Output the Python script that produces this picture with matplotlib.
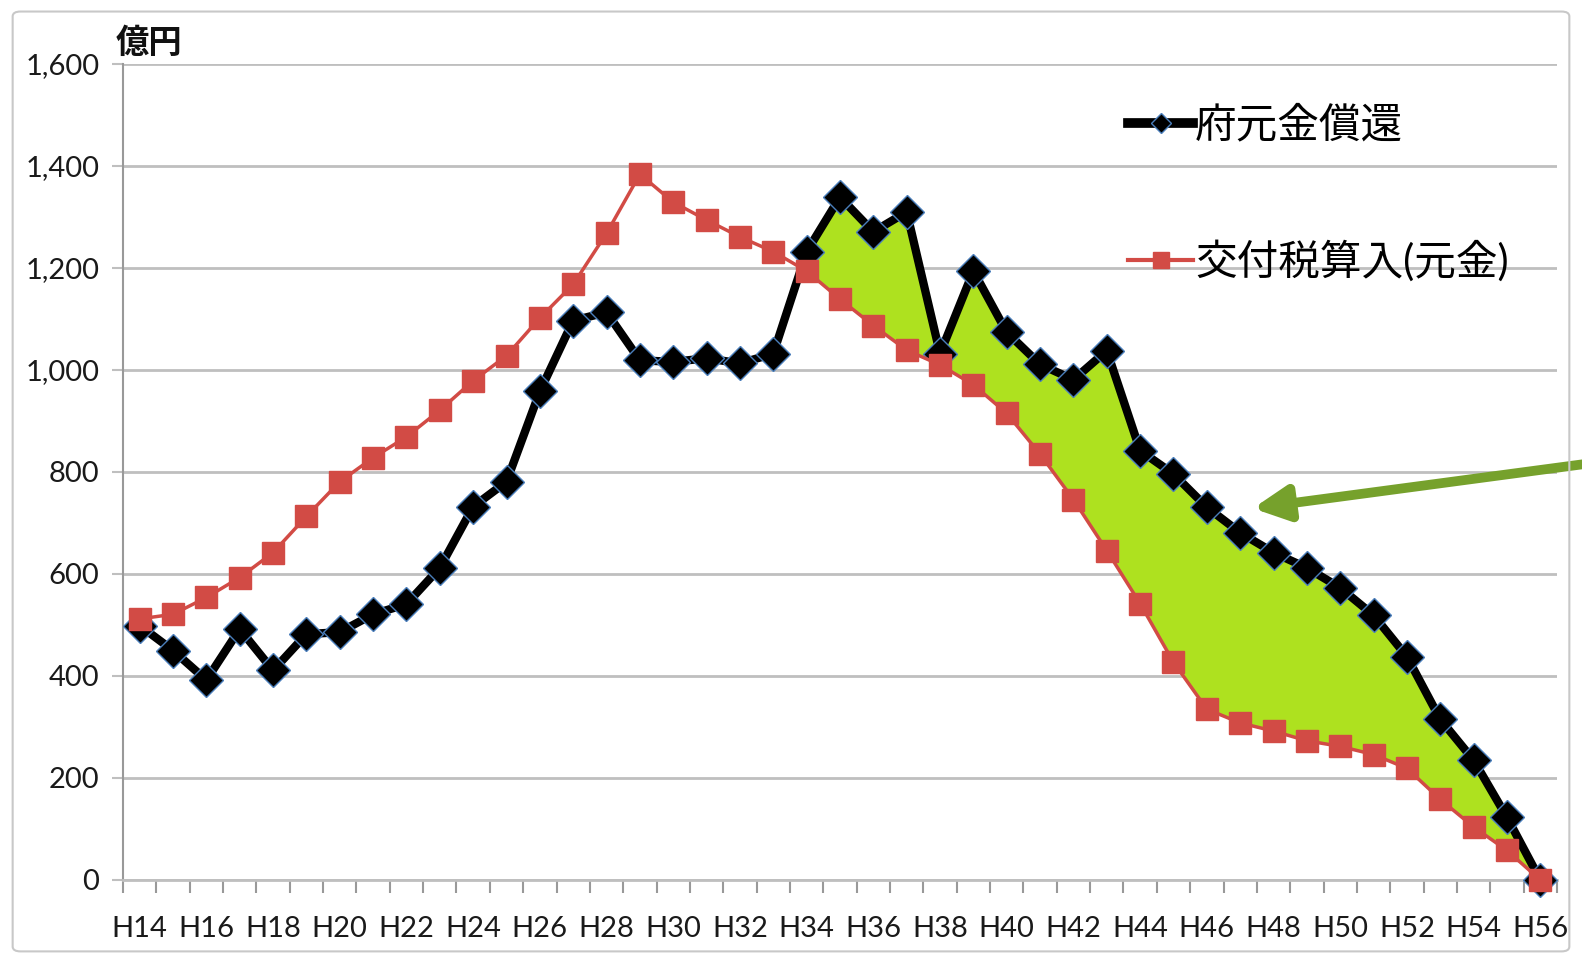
import numpy as np
import matplotlib
matplotlib.use("Agg")
import matplotlib.pyplot as plt
from matplotlib.lines import Line2D
from matplotlib.patches import FancyBboxPatch

plt.rcParams['font.family'] = ['Lato', 'Noto Sans CJK JP', 'DejaVu Sans']

# 年度 H14 .. H56
years = ["H%d" % y for y in range(14, 57)]

# 府元金償還 (億円)
repay = [499, 450, 392, 492, 411, 482, 486, 521, 541, 612,
         732, 781, 958, 1097, 1113, 1019, 1016, 1023, 1013, 1032,
         1232, 1339, 1271, 1310, 1032, 1194, 1074, 1011, 981, 1038,
         842, 796, 731, 681, 642, 612, 573, 519, 438, 315,
         235, 123, 0]

# 交付税算入(元金) (億円)
kofu = [512, 521, 554, 593, 642, 713, 781, 828, 869, 921,
        979, 1028, 1102, 1168, 1268, 1384, 1329, 1294, 1261, 1232,
        1194, 1139, 1087, 1039, 1010, 971, 915, 835, 746, 646,
        542, 427, 335, 308, 292, 273, 262, 246, 219, 158,
        104, 58, 0]

x = np.arange(len(years))
repay = np.array(repay, dtype=float)
kofu = np.array(kofu, dtype=float)

fig = plt.figure(figsize=(15.82, 9.61), dpi=100)
ax = fig.add_axes([123 / 1582, 81 / 961, 1434 / 1582, 816 / 961])

# outer frame
fig.patches.append(FancyBboxPatch((0.008, 0.01), 0.984, 0.978,
                                  boxstyle="round,pad=0,rounding_size=0.005",
                                  transform=fig.transFigure, fill=False,
                                  edgecolor="#c8c8c8", lw=1.5))

ax.fill_between(x, kofu, repay, where=repay >= kofu, interpolate=True,
                color="#aee11f", lw=0, zorder=1)

ax.plot(x, repay, color="black", lw=6, marker="D", markersize=17,
        markerfacecolor="black", markeredgecolor="#4a7ebb", markeredgewidth=1,
        zorder=3, clip_on=False)
ax.plot(x, kofu, color="#d24b45", lw=2.5, marker="s", markersize=16,
        markerfacecolor="#d24b45", markeredgecolor="#d24b45",
        zorder=4, clip_on=False)

ax.set_xlim(-0.5, len(years) - 0.5)
ax.set_ylim(0, 1600)
ax.set_yticks(np.arange(0, 1601, 200))
ax.set_yticklabels(["{:,}".format(v) for v in range(0, 1601, 200)])
ax.yaxis.grid(True, color="#bfbfbf", lw=2)
ax.set_axisbelow(True)

# category boundaries as ticks, labels every 2 years
ax.set_xticks(np.arange(-0.5, len(years), 1))
ax.set_xticklabels([])
ax.set_xticks(x[::2], minor=True)
ax.set_xticklabels(years[::2], minor=True)
ax.tick_params(axis="x", which="major", length=9, width=1.5, color="#999999")
ax.tick_params(axis="x", which="minor", length=0, pad=26, labelsize=21,
               labelcolor="#1a1a1a")
ax.tick_params(axis="y", length=8, width=1.5, color="#bfbfbf", labelsize=21,
               labelcolor="#1a1a1a", pad=9)

for s in ["top", "right"]:
    ax.spines[s].set_visible(False)
ax.spines["left"].set_color("#999999")
ax.spines["left"].set_linewidth(1.5)
ax.spines["bottom"].set_color("#bfbfbf")
ax.spines["bottom"].set_linewidth(2)

fig.text(116 / 1582, 1 - 42 / 961, "億円", fontsize=24, fontweight="bold",
         va="center", ha="left", color="#111111")

handles = [
    Line2D([], [], color="black", lw=7, marker="D", markersize=10,
           markerfacecolor="black", markeredgecolor="#4a7ebb"),
    Line2D([], [], color="#d24b45", lw=3, marker="s", markersize=12,
           markerfacecolor="#d24b45", markeredgecolor="#d24b45"),
]
ax.legend(handles, ["府元金償還", "交付税算入(元金)"], loc="upper left",
          bbox_to_anchor=(0.675, 0.995), frameon=False, fontsize=30,
          handlelength=1.55, handletextpad=0.05, labelspacing=2.3)

ax.annotate("", xy=(33.3, 728), xytext=(43.6, 818),
            arrowprops=dict(arrowstyle="-|>", color="#76a12c", lw=7,
                            mutation_scale=52),
            annotation_clip=False, zorder=5)

fig.savefig("out.png", dpi=100)
